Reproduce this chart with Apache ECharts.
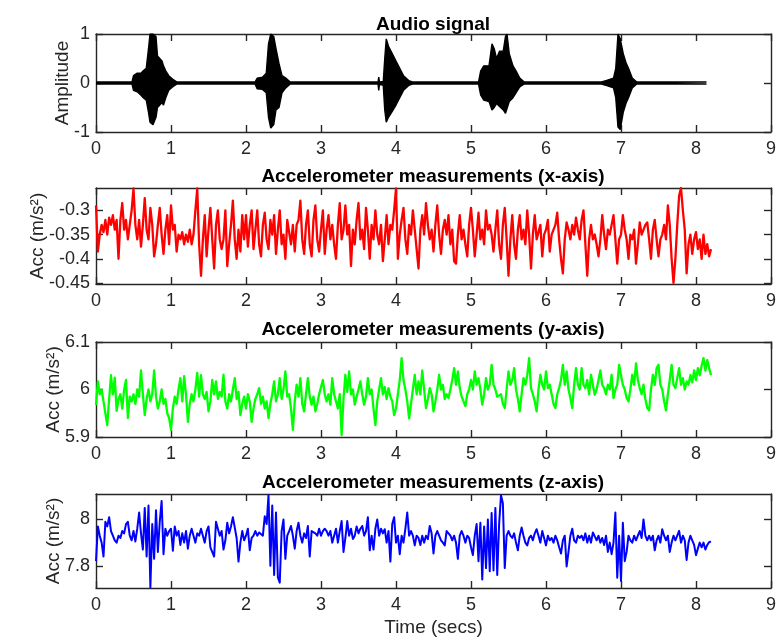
<!DOCTYPE html>
<html>
<head>
<meta charset="utf-8">
<title>Audio signal and accelerometer measurements</title>
<script src="https://cdn.jsdelivr.net/npm/echarts@6/dist/echarts.min.js"></script>
<style>
  html, body { margin: 0; padding: 0; background: #fff; }
  #chart { width: 779px; height: 638px; }
</style>
</head>
<body>
<div id="chart"></div>
<script>
// ---- data ---------------------------------------------------------------

// Panel titles and axis labels
const panelTitles = [
  'Audio signal',
  'Accelerometer measurements (x-axis)',
  'Accelerometer measurements (y-axis)',
  'Accelerometer measurements (z-axis)'
];
const yNames = ['Amplitude', 'Acc (m/s²)', 'Acc (m/s²)', 'Acc (m/s²)'];
const xName = 'Time (secs)';

// Tick values
const xTicks = [0, 1, 2, 3, 4, 5, 6, 7, 8, 9];
const yTicks = [
  [-1, 0, 1],
  [-0.45, -0.4, -0.35, -0.3],
  [5.9, 6, 6.1],
  [7.8, 8]
];
const yRanges = [
  [-1, 1],
  [-0.452, -0.254],
  [5.9, 6.1],
  [7.704, 8.11]
];

// Audio signal envelope: time (s), upper and lower amplitude
const audioTime = [0, 0.48, 0.50, 0.55, 0.60, 0.63, 0.67, 0.70, 0.72, 0.76, 0.80, 0.82, 0.85, 0.88, 0.90, 0.93, 0.97, 1.02, 1.08,
  2.12, 2.15, 2.22, 2.27, 2.30, 2.33, 2.37, 2.40, 2.44, 2.48, 2.53, 2.59,
  3.76, 3.77, 3.78, 3.83, 3.85, 3.87, 3.90, 3.95, 4.00, 4.05, 4.10, 4.17, 4.22,
  5.10, 5.13, 5.17, 5.24, 5.28, 5.31, 5.34, 5.38, 5.43, 5.46, 5.48, 5.51, 5.56, 5.60, 5.65, 5.71,
  6.74, 6.80, 6.90, 6.93, 6.96, 6.99, 7.03, 7.07, 7.10, 7.15, 7.21, 7.68, 7.70, 7.73, 8.14];
const audioUpper = [0.02, 0.02, 0.15, 0.2, 0.2, 0.25, 0.3, 0.7, 1.0, 1.0, 0.95, 0.55, 0.5, 0.45, 0.35, 0.25, 0.15, 0.08, 0.02,
  0.02, 0.1, 0.12, 0.2, 0.8, 1.0, 0.95, 0.7, 0.4, 0.15, 0.1, 0.02,
  0.02, 0.12, 0.02, 0.03, 0.5, 0.9, 0.75, 0.6, 0.45, 0.3, 0.15, 0.05, 0.02,
  0.02, 0.25, 0.35, 0.35, 0.8, 0.7, 0.5, 0.65, 0.65, 0.95, 1.0, 0.6, 0.35, 0.25, 0.1, 0.02,
  0.02, 0.05, 0.1, 0.3, 1.0, 0.9, 0.6, 0.4, 0.3, 0.1, 0.02, 0.02, 0.04, 0.02, 0.02];
const audioLower = [-0.02, -0.02, -0.15, -0.18, -0.25, -0.3, -0.35, -0.6, -0.8, -0.85, -0.7, -0.5, -0.45, -0.4, -0.45, -0.3, -0.15, -0.08, -0.02,
  -0.02, -0.12, -0.13, -0.2, -0.7, -0.92, -0.85, -0.55, -0.5, -0.2, -0.1, -0.02,
  -0.02, -0.15, -0.02, -0.05, -0.55, -0.8, -0.7, -0.58, -0.45, -0.3, -0.15, -0.05, -0.02,
  -0.02, -0.25, -0.35, -0.38, -0.55, -0.5, -0.42, -0.48, -0.55, -0.62, -0.6, -0.38, -0.3, -0.2, -0.08, -0.02,
  -0.02, -0.05, -0.1, -0.3, -0.9, -0.95, -0.6, -0.4, -0.3, -0.1, -0.02, -0.02, -0.04, -0.02, -0.02];

// Accelerometer samples, one every 0.025 s from t = 0 to t = 8.2
const sampleStep = 0.025;
const accX = [
  -0.29, -0.385, -0.35, -0.33, -0.345, -0.32, -0.35, -0.315, -0.33, -0.31, -0.34, -0.32,
  -0.40, -0.32, -0.285, -0.34, -0.32, -0.36, -0.33, -0.30, -0.255, -0.33, -0.36, -0.32,
  -0.375, -0.33, -0.275, -0.34, -0.36, -0.295, -0.33, -0.395, -0.37, -0.33, -0.295, -0.35,
  -0.39, -0.34, -0.31, -0.37, -0.29, -0.34, -0.33, -0.385, -0.35, -0.36, -0.345, -0.37,
  -0.35, -0.365, -0.34, -0.37, -0.35, -0.30, -0.255, -0.37, -0.435, -0.36, -0.31, -0.395,
  -0.34, -0.295, -0.36, -0.42, -0.33, -0.30, -0.36, -0.38, -0.36, -0.30, -0.415, -0.37,
  -0.33, -0.28, -0.36, -0.40, -0.34, -0.385, -0.31, -0.36, -0.31, -0.375, -0.33, -0.30,
  -0.38, -0.34, -0.30, -0.37, -0.395, -0.33, -0.305, -0.36, -0.38, -0.32, -0.35, -0.31,
  -0.39, -0.34, -0.30, -0.37, -0.35, -0.40, -0.32, -0.345, -0.37, -0.33, -0.385, -0.33,
  -0.32, -0.28, -0.36, -0.39, -0.33, -0.30, -0.37, -0.395, -0.32, -0.29, -0.36, -0.385,
  -0.34, -0.30, -0.39, -0.34, -0.31, -0.36, -0.33, -0.37, -0.40, -0.33, -0.285, -0.36,
  -0.34, -0.29, -0.35, -0.33, -0.415, -0.34, -0.37, -0.32, -0.285, -0.36, -0.34, -0.38,
  -0.295, -0.34, -0.40, -0.33, -0.36, -0.30, -0.35, -0.37, -0.33, -0.405, -0.36, -0.31,
  -0.37, -0.33, -0.34, -0.30, -0.255, -0.40, -0.35, -0.32, -0.295, -0.36, -0.39, -0.33,
  -0.35, -0.30, -0.34, -0.38, -0.42, -0.34, -0.31, -0.35, -0.285, -0.33, -0.36, -0.34,
  -0.385, -0.33, -0.29, -0.35, -0.39, -0.34, -0.32, -0.35, -0.31, -0.37, -0.34, -0.405,
  -0.41, -0.35, -0.31, -0.36, -0.34, -0.37, -0.395, -0.33, -0.295, -0.34, -0.395, -0.35,
  -0.305, -0.36, -0.34, -0.37, -0.30, -0.34, -0.33, -0.35, -0.385, -0.34, -0.30, -0.37,
  -0.40, -0.33, -0.295, -0.36, -0.435, -0.36, -0.31, -0.37, -0.40, -0.34, -0.31, -0.36,
  -0.34, -0.37, -0.30, -0.35, -0.42, -0.35, -0.31, -0.36, -0.36, -0.33, -0.395, -0.35,
  -0.34, -0.32, -0.385, -0.35, -0.35, -0.33, -0.305, -0.36, -0.40, -0.43, -0.36, -0.325,
  -0.34, -0.36, -0.33, -0.35, -0.315, -0.34, -0.36, -0.32, -0.30, -0.37, -0.435, -0.36,
  -0.33, -0.36, -0.35, -0.37, -0.395, -0.36, -0.31, -0.35, -0.38, -0.34, -0.35, -0.33,
  -0.31, -0.36, -0.41, -0.36, -0.35, -0.31, -0.34, -0.36, -0.40, -0.35, -0.36, -0.34,
  -0.41, -0.37, -0.325, -0.35, -0.35, -0.33, -0.325, -0.36, -0.40, -0.34, -0.32, -0.36,
  -0.395, -0.36, -0.35, -0.33, -0.36, -0.29, -0.33, -0.40, -0.45, -0.40, -0.33, -0.27,
  -0.254, -0.30, -0.34, -0.43, -0.37, -0.35, -0.39, -0.36, -0.345, -0.38, -0.36, -0.40,
  -0.35, -0.39, -0.37, -0.395, -0.38
];
const accY = [
  5.967, 6.017, 5.99, 6.0, 5.975, 5.95, 5.925, 5.98, 6.03, 5.99, 6.025, 5.955,
  5.98, 5.99, 5.96, 6.0, 6.02, 5.94, 5.985, 5.975, 5.99, 5.97, 6.0, 5.985,
  6.04, 5.99, 5.946, 5.98, 6.0, 5.975, 5.99, 6.04, 5.985, 5.96, 5.975, 6.0,
  5.97, 5.98, 5.95, 5.94, 5.915, 5.96, 5.985, 5.97, 6.0, 6.024, 5.975, 6.028,
  5.99, 5.932, 5.97, 5.99, 5.975, 6.0, 6.035, 5.985, 6.03, 5.99, 5.98, 5.995,
  5.954, 5.975, 6.02, 5.99, 6.017, 5.98, 5.995, 5.985, 6.031, 5.975, 5.96, 5.99,
  5.975, 6.0, 6.024, 5.98, 5.995, 5.946, 5.97, 5.985, 5.96, 5.99, 5.975, 5.932,
  5.96, 5.98, 5.99, 6.003, 5.97, 5.985, 5.96, 5.975, 5.94, 5.97, 5.99, 6.017,
  5.975, 5.99, 6.024, 5.98, 6.0, 6.038, 5.985, 5.99, 5.96, 5.915, 5.975, 6.01,
  5.985, 6.024, 5.97, 5.954, 5.99, 6.024, 5.985, 5.968, 5.985, 5.954, 5.97, 5.99,
  6.005, 6.02, 5.99, 5.975, 5.99, 5.968, 6.024, 5.99, 5.975, 5.96, 5.99, 5.904,
  5.98, 6.031, 5.995, 6.038, 5.99, 6.0, 5.968, 5.985, 6.0, 6.017, 5.99, 5.968,
  5.985, 6.024, 5.99, 6.0, 5.96, 5.925, 5.975, 6.0, 6.024, 5.99, 6.005, 5.98,
  6.003, 5.985, 5.975, 5.946, 5.96, 5.99, 6.02, 6.066, 6.02, 6.0, 5.975, 5.939,
  5.97, 6.0, 6.031, 5.99, 6.017, 5.99, 6.04, 6.0, 5.961, 5.98, 6.003, 5.99,
  5.954, 5.975, 6.0, 6.031, 6.0, 6.01, 5.98, 5.99, 5.982, 6.0, 6.02, 6.045,
  6.01, 6.038, 6.003, 5.985, 5.975, 5.965, 5.99, 6.0, 6.02, 6.0, 6.038, 6.01,
  6.024, 6.0, 5.968, 5.99, 6.024, 6.0, 6.01, 6.052, 6.01, 6.0, 5.985, 5.982,
  5.99, 5.97, 5.961, 6.0, 6.038, 6.01, 6.02, 6.045, 6.0, 5.98, 5.954, 5.99,
  6.024, 6.01, 6.03, 6.066, 6.003, 5.99, 5.975, 5.954, 6.0, 6.031, 6.01, 6.0,
  6.038, 6.003, 6.01, 5.99, 5.97, 5.961, 5.99, 6.003, 6.02, 6.052, 6.01, 6.038,
  6.0, 5.982, 5.961, 6.01, 6.045, 6.01, 6.0, 6.045, 6.01, 6.003, 6.02, 5.99,
  6.031, 6.01, 5.989, 6.0, 6.02, 6.04, 6.01, 6.003, 5.99, 6.01, 6.0, 6.031,
  5.982, 6.0, 6.01, 6.052, 6.03, 6.01, 6.0, 5.982, 5.975, 6.0, 6.031, 6.01,
  6.055, 6.02, 6.003, 5.99, 6.01, 5.98, 5.961, 5.956, 6.0, 6.031, 6.01, 6.045,
  6.052, 6.01, 6.0, 5.975, 5.956, 5.99, 6.02, 6.052, 6.01, 6.003, 6.024, 6.045,
  6.01, 6.024, 6.0, 6.017, 6.01, 6.03, 6.015, 6.04, 6.02, 6.045, 6.03, 6.05,
  6.066, 6.04, 6.062, 6.045, 6.03
];
const accZ = [
  7.82, 7.97, 7.93, 7.90, 7.84, 7.99, 7.97, 8.01, 7.95, 7.93, 7.91, 7.90,
  7.93, 7.92, 7.95, 7.94, 7.98, 7.99, 7.93, 7.91, 7.95, 7.905, 7.96, 8.03,
  7.94, 7.87, 8.05, 7.84, 8.06, 7.706, 7.98, 7.83, 8.04, 7.86, 7.99, 8.08,
  7.85, 7.96, 7.93, 7.95, 7.96, 7.865, 7.97, 7.93, 7.95, 7.89, 7.94, 7.90,
  7.95, 7.874, 7.93, 7.96, 7.93, 7.90, 7.94, 7.93, 7.96, 7.93, 7.90, 7.95,
  7.97, 7.88, 7.874, 7.84, 7.99, 7.993, 7.93, 7.95, 7.87, 7.91, 7.986, 7.94,
  7.97, 8.01, 8.014, 7.92, 7.818, 7.90, 7.95, 7.91, 7.93, 7.96, 7.867, 7.92,
  7.93, 7.95, 7.93, 7.944, 7.95, 7.93, 8.014, 7.98, 8.105, 7.80, 8.06, 7.76,
  8.03, 7.75, 7.727, 7.95, 8.0, 7.83, 7.93, 7.95, 7.972, 7.93, 7.874, 7.95,
  7.986, 7.93, 7.90, 7.94, 7.92, 7.972, 7.84, 7.95, 7.958, 7.94, 7.93, 7.96,
  7.93, 7.95, 7.96, 7.95, 7.93, 7.95, 7.90, 7.93, 7.96, 7.90, 7.95, 7.993,
  7.86, 7.92, 7.993, 7.93, 7.96, 7.916, 7.93, 7.97, 7.94, 7.96, 7.972, 7.93,
  7.95, 8.01, 7.867, 7.93, 7.87, 7.96, 8.0, 7.93, 7.96, 7.94, 7.958, 7.90,
  7.95, 7.818, 7.98, 8.01, 7.90, 7.93, 7.85, 7.93, 7.90, 7.96, 8.03, 7.93,
  7.95, 7.93, 7.888, 7.93, 7.92, 7.89, 7.93, 7.90, 7.93, 7.915, 7.972, 7.94,
  7.853, 7.93, 7.95, 7.93, 7.91, 7.90, 7.888, 7.95, 7.944, 7.93, 7.91, 7.93,
  7.90, 7.83, 7.93, 7.95, 7.93, 7.90, 7.93, 7.92, 7.88, 7.846, 7.93, 7.98,
  7.82, 7.986, 7.741, 7.97, 7.79, 8.0, 7.776, 8.028, 7.78, 8.05, 7.76, 7.98,
  8.105, 8.07, 7.79, 7.93, 7.95, 7.93, 7.92, 7.94, 7.90, 7.867, 7.93, 7.965,
  7.93, 7.90, 7.888, 7.92, 7.93, 7.91, 7.94, 7.958, 7.93, 7.90, 7.95, 7.92,
  7.888, 7.93, 7.91, 7.92, 7.90, 7.93, 7.91, 7.88, 7.853, 7.91, 7.93, 7.797,
  7.86, 7.93, 7.96, 7.91, 7.90, 7.93, 7.92, 7.93, 7.91, 7.94, 7.90, 7.93,
  7.90, 7.944, 7.95, 7.91, 7.93, 7.90, 7.92, 7.89, 7.93, 7.86, 7.90, 7.85,
  7.90, 8.03, 7.748, 7.93, 7.734, 7.986, 7.82, 7.86, 7.93, 7.91, 7.90, 7.93,
  7.91, 7.93, 7.95, 7.92, 8.0, 7.93, 7.91, 7.93, 7.91, 7.93, 7.867, 7.91,
  7.93, 7.90, 7.958, 7.93, 7.91, 7.93, 7.86, 7.90, 7.93, 7.91, 7.93, 7.951,
  7.90, 7.93, 7.91, 7.825, 7.90, 7.93, 7.91, 7.89, 7.846, 7.874, 7.90, 7.88,
  7.90, 7.87, 7.89, 7.902, 7.905
];

// ---- styling ------------------------------------------------------------
const FONT = '"Liberation Sans", Arial, Helvetica, sans-serif';
const AXIS_COLOR = '#262626';
const TEXT_COLOR = '#262626';
const lineColors = ['#000000', '#ff0000', '#00ff00', '#0000ff'];

const grids = [
  { left: 96, width: 675, top: 34, height: 98 },
  { left: 96, width: 675, top: 188, height: 96 },
  { left: 96, width: 675, top: 342, height: 95 },
  { left: 96, width: 675, top: 494, height: 96 }
];
const titleCentres = [25, 177, 330, 483];
const yNameGaps = [24, 49, 33, 33];

const axisLine = { show: true, onZero: false, lineStyle: { color: AXIS_COLOR, width: 1.4 } };
function tickStyle(values) {
  return { show: true, inside: true, length: 7, customValues: values,
           lineStyle: { color: AXIS_COLOR, width: 1.4 } };
}
const labelStyle = { fontFamily: FONT, fontSize: 18, color: TEXT_COLOR };

const xAxes = [];
const yAxes = [];
grids.forEach((g, i) => {
  const xBase = { type: 'value', gridIndex: i, min: 0, max: 9, splitLine: { show: false },
                  axisLine: axisLine, axisTick: tickStyle(xTicks) };
  xAxes.push(Object.assign({}, xBase, {
    position: 'bottom',
    axisLabel: Object.assign({ customValues: xTicks, margin: 8 }, labelStyle),
    name: i === 3 ? xName : '',
    nameLocation: 'middle',
    nameGap: 30,
    nameMoveOverlap: false,
    nameTextStyle: { fontFamily: FONT, fontSize: 19, color: TEXT_COLOR }
  }));
  xAxes.push(Object.assign({}, xBase, { position: 'top', axisLabel: { show: false } }));

  const yBase = { type: 'value', gridIndex: i, min: yRanges[i][0], max: yRanges[i][1],
                  scale: true, splitLine: { show: false }, axisLine: axisLine,
                  axisTick: tickStyle(yTicks[i]) };
  yAxes.push(Object.assign({}, yBase, {
    position: 'left',
    axisLabel: Object.assign({ customValues: yTicks[i], margin: 6 }, labelStyle),
    name: yNames[i],
    nameLocation: 'middle',
    nameRotate: 90,
    nameGap: yNameGaps[i],
    nameMoveOverlap: false,
    nameTextStyle: { fontFamily: FONT, fontSize: 19, color: TEXT_COLOR }
  }));
  yAxes.push(Object.assign({}, yBase, { position: 'right', axisLabel: { show: false } }));
});

const titles = panelTitles.map((t, i) => ({
  text: t,
  left: 433,
  top: titleCentres[i] - 10,
  padding: 0,
  textAlign: 'center',
  textStyle: { fontFamily: FONT, fontSize: 19, fontWeight: 'bold', color: '#000', lineHeight: 20 }
}));

function lineSeries(panel, data, width) {
  return {
    type: 'line', xAxisIndex: panel * 2, yAxisIndex: panel * 2,
    data: data, showSymbol: false, symbol: 'none', silent: true,
    lineStyle: { color: lineColors[panel], width: width, join: 'round' }
  };
}

const sampled = arr => arr.map((v, i) => [i * sampleStep, v]);

// audio envelope drawn as two filled bands about the zero line
const audioBand = (vals) => ({
  type: 'line', xAxisIndex: 0, yAxisIndex: 0,
  data: audioTime.map((t, i) => [t, vals[i]]),
  showSymbol: false, symbol: 'none', silent: true,
  lineStyle: { color: '#000', width: 1.4 },
  areaStyle: { color: '#000', opacity: 1, origin: 'auto' }
});

const chart = echarts.init(document.getElementById('chart'), null, { renderer: 'canvas' });
chart.setOption({
  backgroundColor: '#ffffff',
  animation: false,
  title: titles,
  grid: grids,
  xAxis: xAxes,
  yAxis: yAxes,
  series: [
    audioBand(audioUpper),
    audioBand(audioLower),
    lineSeries(1, sampled(accX), 2.3),
    lineSeries(2, sampled(accY), 2.3),
    lineSeries(3, sampled(accZ), 2.0)
  ]
});
</script>
</body>
</html>
